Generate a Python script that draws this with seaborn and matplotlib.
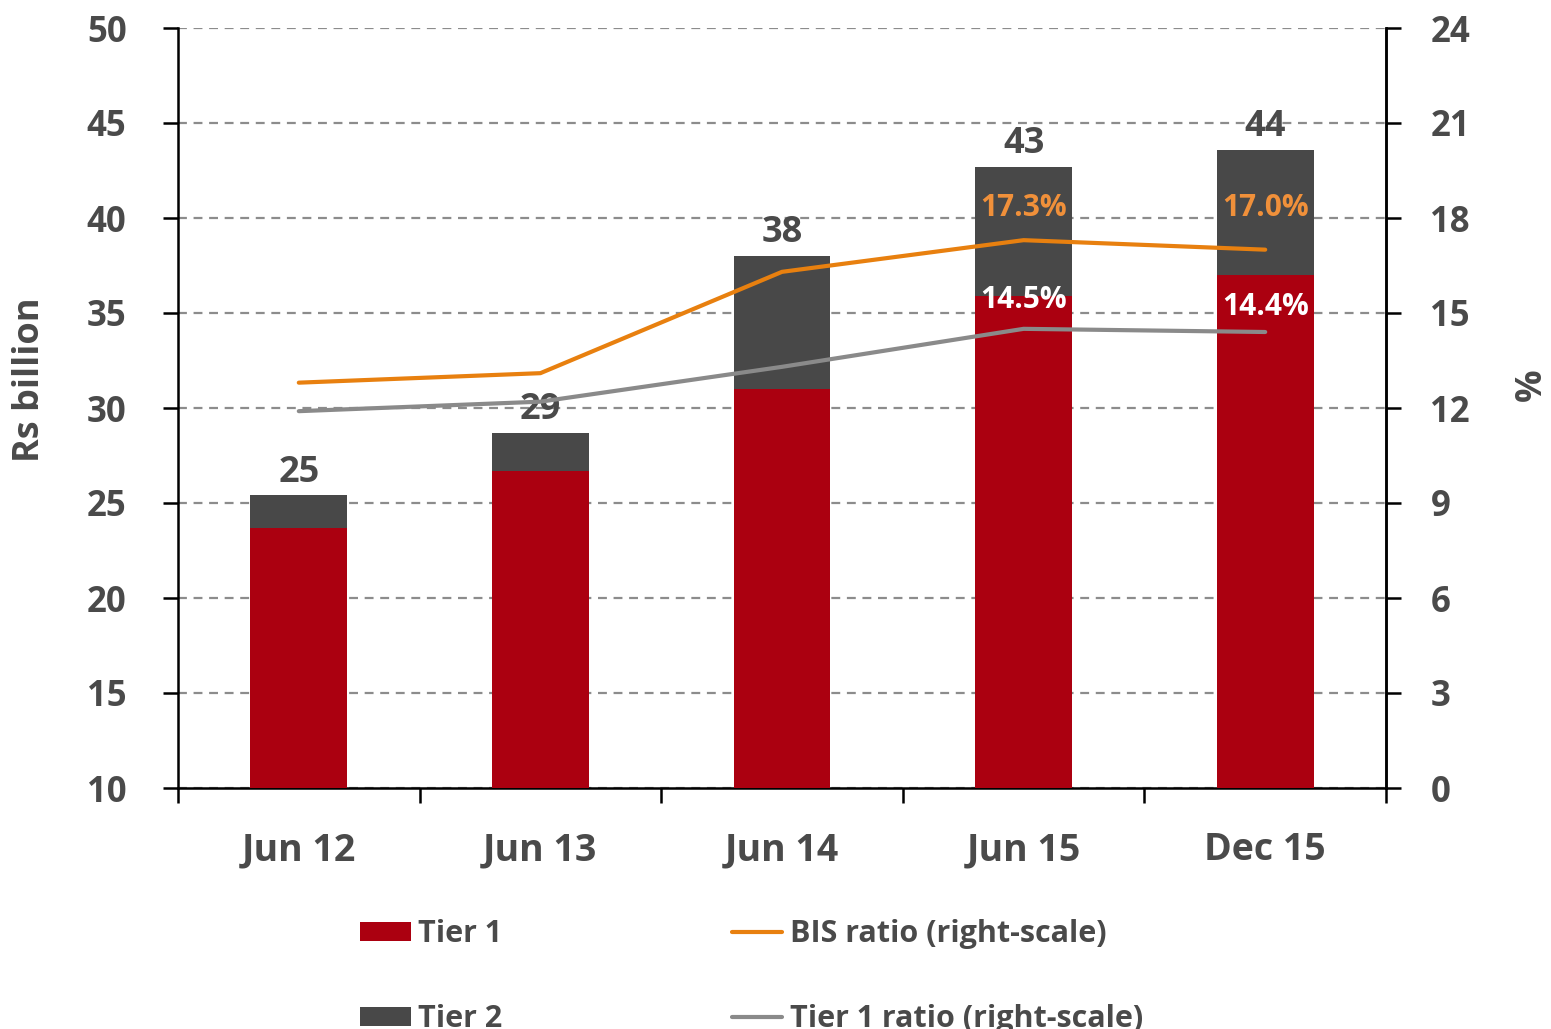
import matplotlib
matplotlib.use("Agg")
import matplotlib.pyplot as plt
import seaborn as sns
import numpy as np
import pandas as pd
from matplotlib.lines import Line2D
from matplotlib.patches import Patch

categories = ["Jun 12", "Jun 13", "Jun 14", "Jun 15", "Dec 15"]
tier1 = [23.7, 26.7, 31.0, 35.9, 37.0]
total = [25.4, 28.7, 38.0, 42.7, 43.6]
total_labels = ["25", "29", "38", "43", "44"]
bis_ratio = [12.8, 13.1, 16.3, 17.3, 17.0]
tier1_ratio = [11.9, 12.2, 13.3, 14.5, 14.4]
bis_labels = {3: "17.3%", 4: "17.0%"}
t1_labels = {3: "14.5%", 4: "14.4%"}

RED = "#ab0010"
DARK = "#484848"
ORANGE = "#e8800f"
GREY = "#8a8a8a"
TXT = "#4a4a4a"

sns.set_style("white")
plt.rcParams["font.family"] = ["Open Sans", "DejaVu Sans"]
plt.rcParams["font.weight"] = "bold"

fig = plt.figure(figsize=(15.51, 10.29), dpi=100)
ax = fig.add_axes([178/1551, 1-788/1029, (1386-178)/1551, (788-28)/1029])

df = pd.DataFrame({"cat": categories, "tier1": tier1, "total": total})
sns.barplot(data=df, x="cat", y="total", color=DARK, width=0.4, ax=ax,
            saturation=1, zorder=3, linewidth=0)
sns.barplot(data=df, x="cat", y="tier1", color=RED, width=0.4, ax=ax,
            saturation=1, zorder=3, linewidth=0)

ax.set_ylim(10, 50)
ax.set_xlim(-0.5, 4.5)
ax.set_yticks(range(10, 51, 5))
ax.set_xlabel("")
ax.set_ylabel("Rs billion", fontsize=26, fontweight="bold", color=TXT)
ax.yaxis.label.set_va("center")
ax.yaxis.set_label_coords((30-178)/1208, (788-380)/760)
ax.yaxis.grid(True, linestyle=(0, (4, 3)), color="#8c8c8c", linewidth=1.6, zorder=0)
ax.xaxis.grid(False)
ax.set_axisbelow(True)

for s in ["left", "bottom", "right"]:
    ax.spines[s].set_visible(True)
    ax.spines[s].set_color("black")
    ax.spines[s].set_linewidth(1.8)
ax.spines["top"].set_visible(False)

ax.tick_params(axis="y", which="major", direction="out", length=11, width=1.8,
               color="black", labelsize=25, labelcolor=TXT, pad=26, left=True)
ax.tick_params(axis="x", which="major", length=0, labelsize=27, labelcolor=TXT, pad=31)
ax.set_xticks(np.arange(-0.5, 5.0, 1.0), minor=True)
ax.tick_params(axis="x", which="minor", direction="out", length=11, width=1.8,
               color="black", bottom=True)
for lab in ax.get_xticklabels() + ax.get_yticklabels():
    lab.set_fontweight("bold")

ax2 = ax.twinx()
x_pos = np.arange(len(categories))
sns.lineplot(x=x_pos, y=bis_ratio, color=ORANGE, linewidth=3, ax=ax2, zorder=5)
sns.lineplot(x=x_pos, y=tier1_ratio, color=GREY, linewidth=3, ax=ax2, zorder=5)
ax2.set_ylim(0, 24)
ax2.set_yticks(range(0, 25, 3))
ax2.set_xlim(-0.5, 4.5)
ax2.set_ylabel("%", fontsize=26, fontweight="bold", color=TXT, rotation=90)
ax2.yaxis.label.set_va("center")
ax2.yaxis.set_label_coords((1532-178)/1208, (788-385)/760)
ax2.tick_params(axis="y", direction="out", length=11, width=1.8, color="black",
                labelsize=25, labelcolor=TXT, pad=21, right=True)
for lab in ax2.get_yticklabels():
    lab.set_fontweight("bold")
for s in ["left", "bottom", "top"]:
    ax2.spines[s].set_visible(False)
ax2.spines["right"].set_visible(True)
ax2.spines["right"].set_color("black")
ax2.spines["right"].set_linewidth(1.8)
ax2.grid(False)

# annotations
for i, (t, lab) in enumerate(zip(total, total_labels)):
    ax.text(i, t + 0.25, lab, ha="center", va="bottom", fontsize=26,
            fontweight="bold", color=TXT, zorder=6)
for i, lab in bis_labels.items():
    ax.text(i, 40.55, lab, ha="center", va="center", fontsize=21.5,
            fontweight="bold", color="#f0903a", zorder=6)
t1_y = {3: 35.7, 4: 35.3}
for i, lab in t1_labels.items():
    ax.text(i, t1_y[i], lab, ha="center", va="center", fontsize=21.5,
            fontweight="bold", color="white", zorder=6)

handles = [Patch(facecolor=RED, edgecolor="none"),
           Patch(facecolor=DARK, edgecolor="none"),
           Line2D([0], [0], color=ORANGE, linewidth=3),
           Line2D([0], [0], color=GREY, linewidth=3)]
labels = ["Tier 1", "Tier 2", "BIS ratio (right-scale)", "Tier 1 ratio (right-scale)"]
leg = fig.legend(handles, labels, ncol=2, loc="upper left",
                 bbox_to_anchor=(348/1551, 1-907/1029), frameon=False,
                 prop={"size": 22, "weight": "bold"}, labelcolor=TXT,
                 handlelength=1.65, handletextpad=0.25, columnspacing=7.5,
                 labelspacing=1.8, handleheight=0.6, borderaxespad=0)

fig.savefig("out.png", dpi=100, facecolor="white")
